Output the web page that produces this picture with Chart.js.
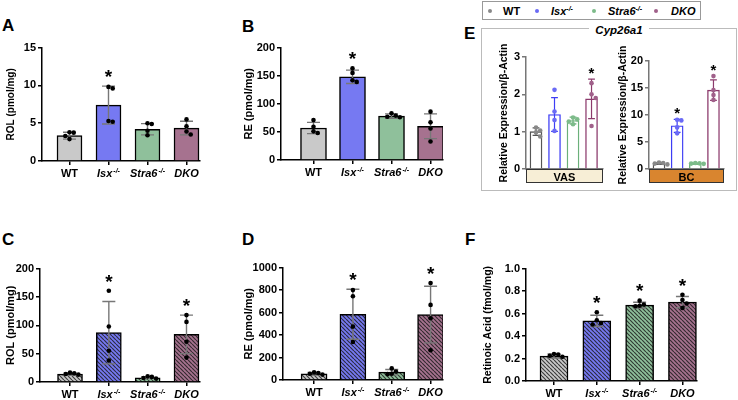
<!DOCTYPE html>
<html>
<head>
<meta charset="utf-8">
<script src="https://cdn.jsdelivr.net/npm/chart.js@4.4.1/dist/chart.umd.min.js"></script>
<style>
  body { margin: 0; background: #fff; }
  #fig { position: relative; width: 738px; height: 400px; overflow: hidden; font-family: "Liberation Sans", Arial, sans-serif; }
  #fig canvas { position: absolute; }
  .letter { position: absolute; font-weight: bold; font-size: 17px; line-height: 17px; }
  #legend { position: absolute; left: 482px; top: 1px; width: 217px; height: 17px; border: 1px solid #999; }
  .lg { position: absolute; top: 3px; font-weight: bold; font-size: 11px; line-height: 12px; }
  .lg i sup, .lg sup { font-size: 7px; vertical-align: 4px; line-height: 0; }
  .dot { position: absolute; top: 7px; width: 4px; height: 4px; border-radius: 50%; }
  #ebox { position: absolute; left: 481px; top: 28px; width: 254px; height: 161px; border: 1px solid #bbb; }
  #etitle { position: absolute; left: 589px; top: 24px; width: 60px; text-align: center; background: #fff; font-weight: bold; font-style: italic; font-size: 11.5px; line-height: 13px; }
</style>
</head>
<body>
<div id="fig">
  <div class="letter" style="left:2px;top:17px">A</div>
  <div class="letter" style="left:242px;top:18px">B</div>
  <div class="letter" style="left:2px;top:231px">C</div>
  <div class="letter" style="left:242px;top:231px">D</div>
  <div class="letter" style="left:465px;top:231px">F</div>
  <div id="legend"></div>
  <div id="ebox"></div>
  <div id="etitle">Cyp26a1</div>
  <div class="letter" style="left:464px;top:25px">E</div>
</div>
<script>
const FONT = '"Liberation Sans", Arial, sans-serif';

// groups on the x axis
const groups = ['WT', 'Isx', 'Stra6', 'DKO'];
const groupSup = ['', '-/-', '-/-', ''];
const groupItalic = [false, true, true, true];

// colours
const fillColors = ['#c9c9c9', '#7679f2', '#8fc09b', '#a6728f'];
const lineColors = ['#555555', '#3d3df5', '#6bb07a', '#8c3a6c'];
const dotColors = ['#888888', '#6a6af5', '#7dbb8a', '#a0608a'];

// A - ROL
const aMean = [3.35, 7.4, 4.2, 4.35];
const aSd = [0.45, 2.5, 0.75, 0.9];
const aPoints = [[3.8, 3.75, 3.3, 2.9], [9.8, 9.6, 5.3, 5.2], [5.0, 4.9, 4.0, 3.4], [5.5, 4.6, 3.9, 3.5]];
const aStars = [0, 1, 0, 0];

// B - RE
const bMean = [57, 148, 78, 60];
const bSd = [10, 12, 4, 22];
const bPoints = [[71, 59, 51, 48], [163, 155, 142, 139], [83, 79, 77, 76], [86, 67, 56, 33]];
const bStars = [0, 1, 0, 0];

// C - ROL
const cMean = [14, 87, 7.5, 84];
const cSd = [2, 55, 1.5, 34];
const cPoints = [[16.5, 15.5, 14, 13], [161, 98, 55, 38], [10, 9, 7, 6], [118, 106, 71, 43]];
const cStars = [0, 1, 0, 1];

// D - RE
const dMean = [55, 585, 70, 582];
const dSd = [12, 222, 24, 252];
const dPoints = [[68, 62, 55, 48], [800, 745, 475, 338], [103, 75, 56, 52], [862, 668, 550, 265]];
const dStars = [0, 1, 0, 1];

// F - retinoic acid
const fMean = [0.222, 0.535, 0.675, 0.702];
const fSd = [0.018, 0.05, 0.025, 0.05];
const fPoints = [[0.24, 0.235, 0.225, 0.215], [0.612, 0.54, 0.515, 0.503], [0.715, 0.68, 0.67, 0.665], [0.768, 0.72, 0.69, 0.65]];
const fStars = [0, 1, 1, 1];

// E - Cyp26a1, VAS and BC
const vasMean = [1.0, 1.46, 1.3, 1.88];
const vasSd = [0.1, 0.45, 0.09, 0.53];
const vasPoints = [[1.11, 1.03, 0.98, 0.87], [2.12, 1.54, 1.31, 1.02], [1.38, 1.33, 1.27, 1.2], [2.3, 2.0, 1.9, 1.15]];
const vasStars = [0, 0, 0, 1];

const bcMean = [1.0, 8.0, 1.0, 14.6];
const bcSd = [0.15, 1.2, 0.1, 1.9];
const bcPoints = [[1.2, 1.1, 1.0, 0.85], [9.1, 9.0, 7.7, 6.6], [1.1, 1.05, 1.0, 0.95], [17.2, 14.6, 13.7, 12.8]];
const bcStars = [0, 1, 0, 1];

const fig = document.getElementById('fig');

function hatch(ctx, color) {
  const s = 4;
  const c = document.createElement('canvas');
  c.width = s; c.height = s;
  const g = c.getContext('2d');
  g.fillStyle = color;
  g.fillRect(0, 0, s, s);
  g.strokeStyle = 'rgba(25,25,25,0.8)';
  g.lineWidth = 1.2;
  g.beginPath();
  for (const k of [-s, 0, s]) { g.moveTo(k, 0); g.lineTo(k + s, s); }
  g.stroke();
  return ctx.createPattern(c, 'repeat');
}

// simple beeswarm offsets so close dots sit side by side
function swarm(vals, thr, w) {
  const placed = [];
  return vals.map(v => {
    const near = placed.filter(p => Math.abs(p.v - v) < thr).map(p => p.dx);
    const dx = [0, w, -w, 2 * w, -2 * w].find(d => !near.some(n => Math.abs(n - d) < w * 0.5));
    placed.push({ v, dx });
    return dx;
  });
}

function panel(o) {
  const PT = o.pt || 8, PR = 4;
  const canvasLeft = Math.round(o.titleX - 4 - 0.6 * o.titleSize);
  const yw = o.ax - canvasLeft;
  const w = yw + (o.rx - o.ax) + PR;
  const h = PT + (o.yb - o.yt) + o.xh;
  const cv = document.createElement('canvas');
  cv.width = w; cv.height = h;
  cv.style.left = canvasLeft + 'px';
  cv.style.top = (o.yt - PT) + 'px';
  cv.style.width = w + 'px';
  cv.style.height = h + 'px';
  fig.appendChild(cv);
  const ctx = cv.getContext('2d');

  const axisColor = o.e ? '#777' : '#000';
  const pxPerX = (o.rx - o.ax) / (o.xmax - o.xmin);
  const thr = o.ymax * 4.5 / (o.yb - o.yt);

  const pts = [];
  o.points.forEach((vals, i) => {
    const dx = swarm(vals, thr, 4.2 / pxPerX);
    vals.forEach((v, k) => pts.push({ x: i + dx[k], y: v, c: i }));
  });

  const barFill = o.e ? groups.map(() => '#ffffff')
    : fillColors.map(c => o.hatched ? hatch(ctx, c) : c);

  const errPlugin = {
    id: 'err',
    afterDatasetDraw(chart, args) {
      if (args.index !== 1) return;
      const xs = chart.scales.x, ys = chart.scales.y, g = chart.ctx;
      g.save();
      o.mean.forEach((m, i) => {
        const x = xs.getPixelForValue(i);
        const t = ys.getPixelForValue(m + o.sd[i]);
        const b = ys.getPixelForValue(Math.max(0, m - o.sd[i]));
        g.strokeStyle = o.e ? lineColors[i] : '#777';
        g.lineWidth = o.e ? 1.2 : 1.4;
        g.beginPath();
        g.moveTo(x, t); g.lineTo(x, b);
        g.moveTo(x - o.cap, t); g.lineTo(x + o.cap, t);
        g.moveTo(x - o.cap, b); g.lineTo(x + o.cap, b);
        g.stroke();
      });
      g.restore();
    }
  };

  const decoPlugin = {
    id: 'deco',
    afterDraw(chart) {
      const xs = chart.scales.x, ys = chart.scales.y, g = chart.ctx, area = chart.chartArea;
      g.save();
      // significance stars
      g.fillStyle = '#000';
      g.textAlign = 'center';
      g.textBaseline = 'alphabetic';
      g.font = `bold ${o.starSize}px ${FONT}`;
      o.stars.forEach((s, i) => {
        if (!s) return;
        const top = Math.max(o.mean[i] + o.sd[i], ...o.points[i]);
        const y = ys.getPixelForValue(top) - o.starGap + 0.57 * o.starSize;
        g.fillText('*', xs.getPixelForValue(i), y);
      });
      if (o.e) {
        // tissue box under the axis
        g.fillStyle = o.boxColor;
        g.fillRect(area.left, area.bottom, area.right - area.left, 14);
        g.strokeStyle = '#333';
        g.lineWidth = 1;
        g.strokeRect(area.left + 0.5, area.bottom + 0.5, area.right - area.left - 1, 13);
        g.fillStyle = '#000';
        g.font = `bold 11px ${FONT}`;
        g.fillText(o.box, (area.left + area.right) / 2, area.bottom + 11.5);
      } else {
        groups.forEach((lab, i) => {
          const base = `${groupItalic[i] ? 'italic ' : ''}bold 11px ${FONT}`;
          const sup = `${groupItalic[i] ? 'italic ' : ''}bold 7px ${FONT}`;
          g.font = base;
          const w1 = g.measureText(lab).width;
          g.font = sup;
          const w2 = groupSup[i] ? g.measureText(groupSup[i]).width + 1 : 0;
          const x = xs.getPixelForValue(i) - (w1 + w2) / 2;
          const y = area.bottom + 16;
          g.textAlign = 'left';
          g.font = base;
          g.fillText(lab, x, y);
          if (groupSup[i]) {
            g.font = sup;
            g.fillText(groupSup[i], x + w1 + 1, y - 4);
          }
        });
      }
      g.restore();
    }
  };

  new Chart(cv, {
    data: {
      datasets: [
        {
          type: 'scatter',
          order: 0,
          data: pts,
          pointRadius: 2.3,
          pointBackgroundColor: pts.map(p => o.e ? dotColors[p.c] : '#000'),
          pointBorderWidth: 0
        },
        {
          type: 'bar',
          order: 1,
          data: o.mean.map((m, i) => ({ x: i, y: m })),
          barThickness: o.barW,
          backgroundColor: barFill,
          borderColor: o.e ? lineColors : '#000',
          borderWidth: o.e ? 1.4 : 1.5
        }
      ]
    },
    options: {
      responsive: false,
      animation: false,
      events: [],
      layout: { padding: { left: 0, top: PT, right: PR, bottom: 0 } },
      plugins: { legend: { display: false }, tooltip: { enabled: false } },
      scales: {
        x: {
          type: 'linear',
          min: o.xmin,
          max: o.xmax,
          offset: false,
          afterBuildTicks(s) { s.ticks = groups.map((g, i) => ({ value: i })); },
          afterFit(s) { s.height = o.xh; },
          ticks: { callback: () => '' },
          grid: { offset: false, drawOnChartArea: false, drawTicks: !o.e, tickLength: 4, color: axisColor, lineWidth: 1.5 },
          border: { color: axisColor, width: 1.5 }
        },
        y: {
          min: 0,
          max: o.ymax,
          afterFit(s) { s.width = yw; },
          ticks: {
            stepSize: o.step,
            color: '#000',
            padding: 2,
            font: { family: FONT, size: o.tickSize, weight: 'bold' },
            callback: v => o.decimals ? v.toFixed(1) : v
          },
          grid: { drawOnChartArea: false, drawTicks: true, tickLength: 4, color: axisColor, lineWidth: 1.5 },
          border: { color: axisColor, width: 1.5 },
          title: {
            display: true,
            text: o.title,
            color: '#000',
            font: { family: FONT, size: o.titleSize, weight: 'bold' }
          }
        }
      }
    },
    plugins: [errPlugin, decoPlugin]
  });
}

const main = { xh: 24, cap: 6.5, starSize: 19, starGap: 14, tickSize: 11 };

panel({ ...main, ax: 42, rx: 200, yt: 47, yb: 161, ymax: 15, step: 5, xmin: -0.705, xmax: 3.346, barW: 25,
  titleX: 10.5, titleSize: 10, title: 'ROL (pmol/mg)', mean: aMean, sd: aSd, points: aPoints, stars: aStars });
panel({ ...main, ax: 281, rx: 443, yt: 47, yb: 160, ymax: 200, step: 50, xmin: -0.833, xmax: 3.32, barW: 26,
  titleX: 249, titleSize: 11, title: 'RE (pmol/mg)', mean: bMean, sd: bSd, points: bPoints, stars: bStars });
panel({ ...main, ax: 40, rx: 200, yt: 268, yb: 382, ymax: 200, step: 50, xmin: -0.773, xmax: 3.348, barW: 25, hatched: true,
  titleX: 11, titleSize: 11, title: 'ROL (pmol/mg)', mean: cMean, sd: cSd, points: cPoints, stars: cStars });
panel({ ...main, ax: 283, rx: 443, yt: 267, yb: 380, ymax: 1000, step: 200, xmin: -0.8, xmax: 3.32, barW: 26, hatched: true,
  titleX: 248.5, titleSize: 11, title: 'RE (pmol/mg)', mean: dMean, sd: dSd, points: dPoints, stars: dStars });
panel({ ...main, ax: 526, rx: 697, yt: 268, yb: 381, ymax: 1, step: 0.2, decimals: true, xmin: -0.654, xmax: 3.34, barW: 28, hatched: true,
  titleX: 488, titleSize: 10.5, title: 'Retinoic Acid (fmol/mg)', mean: fMean, sd: fSd, points: fPoints, stars: fStars });

const eOpts = { e: true, pt: 24, xh: 16, cap: 3.4, starSize: 15, starGap: 10, tickSize: 11, barW: 12, titleSize: 10.5,
  title: 'Relative Expression/\u03b2-Actin' };
panel({ ...eOpts, ax: 526, rx: 603, yt: 57, yb: 169, ymax: 3, step: 1, xmin: -0.54, xmax: 3.62,
  titleX: 504.5, box: 'VAS', boxColor: '#f7eed6', mean: vasMean, sd: vasSd, points: vasPoints, stars: vasStars });
panel({ ...eOpts, ax: 649, rx: 724, yt: 61, yb: 169, ymax: 20, step: 5, xmin: -0.55, xmax: 3.58,
  titleX: 623, box: 'BC', boxColor: '#d9852f', mean: bcMean, sd: bcSd, points: bcPoints, stars: bcStars });

// legend of panel E
const legend = document.getElementById('legend');
const legendDots = [489, 536, 593, 655];
const legendText = [502, 550, 607, 670];
groups.forEach((g, i) => {
  const d = document.createElement('span');
  d.className = 'dot';
  d.style.left = (legendDots[i] - 482 - 2) + 'px';
  d.style.background = dotColors[i];
  legend.appendChild(d);
  const t = document.createElement('span');
  t.className = 'lg';
  t.style.left = (legendText[i] - 482) + 'px';
  t.innerHTML = groupItalic[i] ? `<i>${g}${groupSup[i] ? '<sup>' + groupSup[i] + '</sup>' : ''}</i>` : g;
  legend.appendChild(t);
});
</script>
</body>
</html>
